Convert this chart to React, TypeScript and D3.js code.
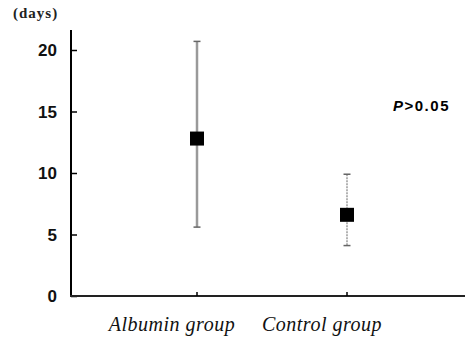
import React, { useEffect, useRef } from 'react'
import * as d3 from 'd3'

// Values (days)
const categories = ['Albumin group', 'Control group']
const means = [12.8, 6.6]
const upperLimits = [20.7, 9.9]
const lowerLimits = [5.6, 4.1]
const yTicks = [0, 5, 10, 15, 20]

const W = 465
const H = 342

const App: React.FC = () => {
  const svgRef = useRef<SVGSVGElement | null>(null)

  useEffect(() => {
    if (!svgRef.current) return
    const svg = d3.select(svgRef.current)
    svg.selectAll('*').remove()

    // Scales
    const y = d3.scaleLinear().domain([0, 20]).range([296, 50])
    const x = d3.scalePoint<string>().domain(categories).range([197, 347])
    const axisX = 71

    svg.append('rect').attr('width', W).attr('height', H).attr('fill', '#fff')

    // Y axis (ticks point inward)
    const yAxis = svg.append('g')
      .attr('transform', `translate(${axisX},0)`)
      .call(d3.axisRight(y).tickValues(yTicks).tickSize(6).tickFormat(() => ''))
    yAxis.select('.domain').remove()
    yAxis.selectAll('line').attr('stroke', '#000').attr('stroke-width', 1.5)

    svg.append('line')
      .attr('x1', axisX).attr('x2', axisX)
      .attr('y1', 30).attr('y2', y(0) + 1)
      .attr('stroke', '#000').attr('stroke-width', 2)

    // Tick labels
    svg.append('g').selectAll('text')
      .data(yTicks)
      .enter()
      .append('text')
      .attr('x', 57)
      .attr('y', d => y(d))
      .attr('dy', '0.36em')
      .attr('text-anchor', 'end')
      .style('font-family', '"Liberation Sans", Arial, sans-serif')
      .style('font-weight', 'bold')
      .style('font-size', '17px')
      .attr('fill', '#111')
      .text(d => d)

    // X axis
    svg.append('line')
      .attr('x1', axisX - 1).attr('x2', W)
      .attr('y1', y(0)).attr('y2', y(0))
      .attr('stroke', '#222').attr('stroke-width', 2)
    svg.append('g').selectAll('line')
      .data(categories)
      .enter()
      .append('line')
      .attr('x1', d => x(d)!).attr('x2', d => x(d)!)
      .attr('y1', y(0)).attr('y2', y(0) - 4)
      .attr('stroke', '#000').attr('stroke-width', 1.5)

    // Error bars
    const barStyles = [
      { color: '#9a9a9a', width: 2.5, dash: null as string | null },
      { color: '#8a8a8a', width: 1.3, dash: '2,1' },
    ]
    categories.forEach((c, i) => {
      const cx = x(c)!
      const st = barStyles[i]
      const ln = svg.append('line')
        .attr('x1', cx).attr('x2', cx)
        .attr('y1', y(upperLimits[i])).attr('y2', y(lowerLimits[i]))
        .attr('stroke', st.color).attr('stroke-width', st.width)
      if (st.dash) ln.attr('stroke-dasharray', st.dash)
      ;[upperLimits[i], lowerLimits[i]].forEach(v => {
        svg.append('line')
          .attr('x1', cx - 3.5).attr('x2', cx + 3.5)
          .attr('y1', y(v)).attr('y2', y(v))
          .attr('stroke', '#666').attr('stroke-width', 1.5)
      })
    })

    // Mean markers
    const sq = 14
    svg.append('g').selectAll('rect')
      .data(categories)
      .enter()
      .append('rect')
      .attr('x', d => x(d)! - sq / 2)
      .attr('y', (d, i) => y(means[i]) - sq / 2)
      .attr('width', sq)
      .attr('height', sq)
      .attr('fill', '#000')

    // Category labels
    svg.append('g').selectAll('text')
      .data(categories)
      .enter()
      .append('text')
      .attr('x', d => x(d)! - 25)
      .attr('y', 331)
      .attr('text-anchor', 'middle')
      .style('font-family', '"Liberation Serif", "Times New Roman", serif')
      .style('font-style', 'italic')
      .style('font-size', '20px')
      .style('letter-spacing', '0.5px')
      .attr('fill', '#111')
      .text(d => d)

    // Unit label
    svg.append('text')
      .attr('x', 13)
      .attr('y', 18)
      .style('font-family', '"Liberation Serif", "Times New Roman", serif')
      .style('font-size', '15px')
      .style('font-weight', 'bold')
      .style('letter-spacing', '1px')
      .attr('fill', '#222')
      .text('(days)')

    // P value annotation
    const p = svg.append('text')
      .attr('x', 393)
      .attr('y', 111)
      .style('font-family', '"Liberation Sans", Arial, sans-serif')
      .style('font-size', '15px')
      .style('font-weight', 'bold')
      .style('letter-spacing', '1.5px')
      .attr('fill', '#000')
    p.append('tspan').style('font-style', 'italic').text('P')
    p.append('tspan').text('>0.05')
  }, [])

  return (
    <svg
      ref={svgRef}
      width={W}
      height={H}
      style={{ position: 'absolute', left: 0, top: 0 }}
    />
  )
}

export default App
